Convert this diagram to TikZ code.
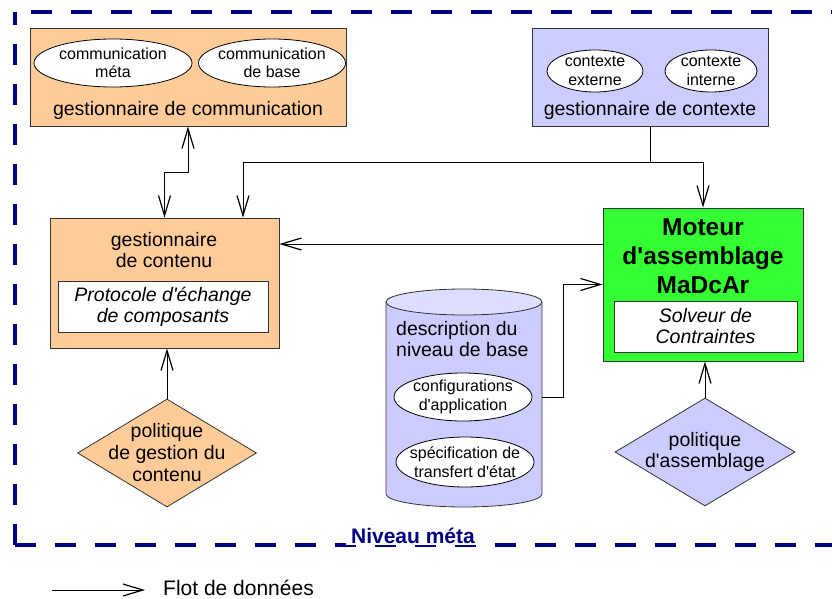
\documentclass[tikz,border=0pt]{standalone}
\usepackage{fontspec}
\setmainfont{Liberation Sans}[Ligatures=TeXOff]
\usetikzlibrary{arrows.meta,shapes.geometric,calc}
\definecolor{peach}{HTML}{FFCC99}
\definecolor{lav}{HTML}{CCCCFF}
\definecolor{lavlight}{HTML}{DDDDFF}
\definecolor{vert}{HTML}{33FF33}
\definecolor{navyb}{HTML}{000080}
\definecolor{bord}{HTML}{333333}
\newcommand{\fmain}{\fontsize{19.5}{21}\selectfont}
\newcommand{\fsmall}{\fontsize{16}{18.5}\selectfont}
\newcommand{\fbig}{\fontsize{24.5}{29}\selectfont\bfseries}
\begin{document}
\begin{tikzpicture}[x=1pt,y=-1pt,
  box/.style={draw=bord, line width=0.8pt, rectangle, inner sep=0pt},
  ell/.style={draw=black, line width=0.8pt, ellipse, fill=white, inner sep=0pt},
  dia/.style={draw=bord, line width=0.8pt, diamond, inner sep=0pt},
  txt/.style={inner sep=0pt, align=center, font=\fmain},
  stxt/.style={inner sep=0pt, align=center, font=\fsmall},
  flow/.style={line width=0.8pt, -{Straight Barb[length=20pt,width=12pt,line width=1.2pt]}},
  dflow/.style={line width=0.8pt, {Straight Barb[length=20pt,width=12pt,line width=1.2pt]}-{Straight Barb[length=20pt,width=12pt,line width=1.2pt]}},
  border/.style={draw=navyb, line width=4pt, dash pattern=on 21pt off 19pt}
]
\useasboundingbox (0,0) rectangle (832,599);

% dashed frame
\draw[border] (15,545) -- (15,12);
\draw[border] (31,12) -- (850,12);
\draw[border] (15,545) -- (850,545);
\node[fill=white, inner xsep=5pt, inner ysep=1pt, text=navyb, font=\fontsize{21}{21}\selectfont\bfseries] (niv) at (413,536) {Niveau méta};

% gestionnaire de communication
\node[box, fill=peach, minimum width=316pt, minimum height=98pt] (comm) at (188,77) {};
\node[ell, minimum width=158pt, minimum height=48pt] (cm) at (113,63) {};
\node[stxt] at (cm) {communication\\méta};
\node[ell, minimum width=147pt, minimum height=48pt] (cb) at (272,63) {};
\node[stxt] at (cb) {communication\\de base};
\node[txt] (commt) at (188,110) {gestionnaire de communication};

% gestionnaire de contexte
\node[box, fill=lav, minimum width=236pt, minimum height=98pt] (ctx) at (650,77) {};
\node[ell, minimum width=96pt, minimum height=42pt] (ce) at (595,71) {};
\node[stxt] at (ce) {contexte\\externe};
\node[ell, minimum width=92pt, minimum height=42pt] (ci) at (711,71) {};
\node[stxt] at (ci) {contexte\\interne};
\node[txt] (ctxt) at (650,110) {gestionnaire de contexte};

% gestionnaire de contenu
\node[box, fill=peach, minimum width=229pt, minimum height=130pt] (cont) at (164.5,283) {};
\node[txt] (contt) at (164,250) {gestionnaire\\de contenu};
\node[box, fill=white, minimum width=210pt, minimum height=51pt] (proto) at (163,306.5) {};
\node[txt, font=\fmain\itshape] at (proto) {Protocole d'échange\\de composants};

% moteur
\node[box, fill=vert, minimum width=200pt, minimum height=153pt] (mot) at (703,284.5) {};
\node[txt, font=\fbig] (mott) at (703,256) {Moteur\\d'assemblage\\MaDcAr};
\node[box, fill=white, minimum width=183pt, minimum height=51pt] (solv) at (705.5,326.5) {};
\node[txt, font=\fmain\itshape] at (solv) {Solveur de\\Contraintes};

% cylinder
\fill[lav, draw=bord, line width=0.8pt] (386,302) -- (386,494) arc[start angle=180, end angle=360, x radius=78pt, y radius=13pt] -- (542,302);
\draw[bord, fill=lavlight, line width=0.8pt] (464,302) ellipse[x radius=78pt, y radius=13pt];
\node[txt, align=left, anchor=west] (cylt) at (396,339.5) {description du\\niveau de base};
\node[ell, minimum width=138pt, minimum height=48pt] (conf) at (463,397) {};
\node[stxt] at (conf) {configurations\\d'application};
\node[ell, minimum width=138pt, minimum height=50pt] (spec) at (465,462) {};
\node[stxt] at (spec) {spécification de\\transfert d'état};
\coordinate (cylR) at (542,397);

% diamonds
\node[dia, fill=peach, minimum width=179pt, minimum height=108pt] (d1) at (167,453) {};
\node[txt, font=\fontsize{19.5}{22}\selectfont] at (d1) {politique\\de gestion du\\contenu};
\node[dia, fill=lav, minimum width=180pt, minimum height=108pt] (d2) at (705,452) {};
\node[txt, font=\fontsize{19.5}{21.5}\selectfont] at (d2) {politique\\d'assemblage};

% connectors
\draw[dflow] (comm.south) -- ++(0,46) -| (cont.north);
\draw[line width=0.8pt] (ctx.south) -- ++(0,36) coordinate (jn);
\draw[flow] (jn) -| ([xshift=78.5pt]cont.north);
\draw[flow] (jn) -| (mot.north);
\draw[flow] ([yshift=40.5pt]mot.west) coordinate (m1) -- (m1 -| cont.east);
\draw[flow] (cylR) -- ++(21,0) |- (mot.west);
\draw[flow] (d1.north) -- (d1.north |- cont.south);
\draw[flow] (d2.north) -- (d2.north |- mot.south);

% legend
\node[txt, anchor=west, font=\fontsize{21}{21}\selectfont] (leg) at (163,588) {Flot de données};
\coordinate (l0) at (52,590);
\draw[flow] (l0) -- ([xshift=-18pt]leg.west |- l0);
\end{tikzpicture}
\end{document}
